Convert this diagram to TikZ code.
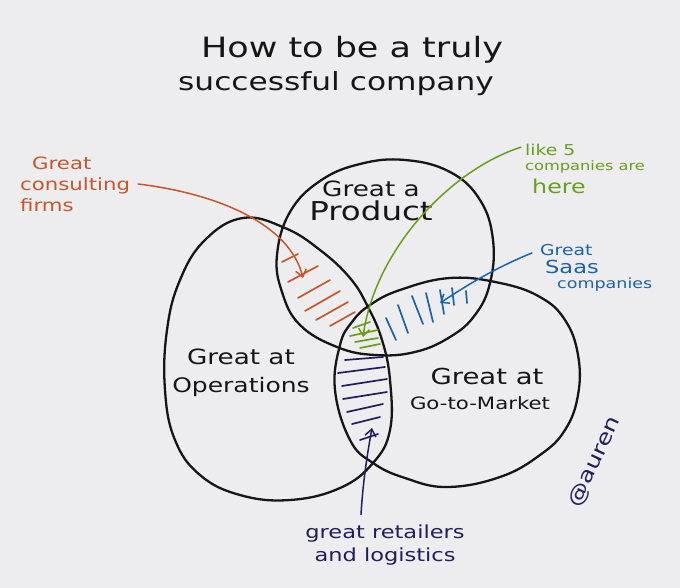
\documentclass[tikz,border=0pt]{standalone}
\usepackage{fontspec}
\newfontfamily\hand[FakeStretch=1.25]{DejaVu Sans}
\usetikzlibrary{arrows.meta,calc}
\definecolor{paper}{RGB}{237,237,239}
\definecolor{inkorange}{RGB}{196,88,42}
\definecolor{inkgreen}{RGB}{104,158,28}
\definecolor{inkblue}{RGB}{28,98,168}
\definecolor{inknavy}{RGB}{32,30,92}
\definecolor{ink}{RGB}{22,22,22}
\newcommand{\fsz}[1]{\fontsize{#1}{#1}\selectfont}
\begin{document}
\begin{tikzpicture}[x=1pt,y=-1pt,
  venn/.style={draw=ink,line width=2.3pt},
  hatch/.style={line width=1.7pt,line cap=round},
  lbl/.style={inner sep=0pt},
  arr/.style={line width=1.5pt,line cap=round,-{Straight Barb[length=7pt,width=11pt]}},
  hw/.style={text=ink,inner sep=0pt}]
\fill[paper] (0,0) rectangle (680,588);
\useasboundingbox (0,0) rectangle (680,588);

% Title
\node[hw,font=\hand\fsz{28}] (title1) at (352,50) {How to be a truly};
\node[hw,font=\hand\fsz{25}] (title2) at (336,84) {successful company};

% Circles
\draw[venn] plot[smooth cycle,tension=0.7] coordinates {
  (405,160) (450,172) (480,200) (493,240) (490,283) (475,315) (450,337)
  (415,352) (375,355) (337,347) (300,325) (282,292) (277,255) (290,212)
  (320,181) (360,164)};
\draw[venn] plot[smooth cycle,tension=0.7] coordinates {
  (243,218) (285,228) (320,250) (350,278) (368,307) (382,340) (390,380)
  (390,430) (373,463) (340,488) (290,500) (240,495) (200,475) (175,440)
  (165,390) (167,330) (180,280) (205,240)};
\draw[venn] plot[smooth cycle,tension=0.7] coordinates {
  (335,390) (340,345) (352,322) (370,305) (400,290) (450,278) (500,283)
  (540,297) (565,320) (578,355) (578,395) (565,430) (540,455) (500,477)
  (447,487) (405,478) (373,463) (350,440)};

% Circle labels
\node[hw,align=center,font=\hand] (prod) at (371,201)
  {{\fsz{21}Great a}\\[3pt]{\fsz{26}Product}};
\node[hw,align=center,font=\hand] (ops) at (241,373)
  {{\fsz{21}Great at}\\[12pt]{\fsz{20}Operations}};
\node[hw,align=center,font=\hand] (gtm) at (480,389)
  {{\fsz{22}\hspace*{14pt}Great at}\\[10pt]{\fsz{17}Go-to-Market}};

% Hatching: orange (Product & Operations)
\draw[hatch,inkorange] (282,262)--(298,254) (288,282)--(318,266)
  (298,298)--(330,280) (305,311)--(340,291) (316,320)--(348,302)
  (330,326)--(355,312);
% green (all three)
\draw[hatch,inkgreen] (353,328)--(370,322) (350,336)--(378,330)
  (355,342)--(378,338) (360,348)--(380,344);
% blue (Product & GTM)
\draw[hatch,inkblue] (386,318)--(396,340) (398,305)--(408,333)
  (412,296)--(423,324) (426,293)--(433,322) (440,290)--(444,314)
  (452,288)--(454,305) (466,291)--(467,303);
% navy (Operations & GTM)
\draw[hatch,inknavy] (345,360)--(383,357) (338,373)--(385,367)
  (342,386)--(387,379) (343,399)--(387,392) (347,412)--(383,404)
  (352,424)--(380,417) (360,440)--(378,434);

% Side labels
\node[lbl,anchor=west,align=left,text=inkorange,font=\hand\fsz{17}] (cons) at (20,184)
  {\hspace*{12pt}Great\\[4pt]consulting\\[4pt]firms};
\node[lbl,anchor=west,align=left,text=inkgreen,font=\hand] (five) at (525,169)
  {{\fsz{15}like 5}\\[3pt]{\fsz{13}companies are}\\[5pt]\hspace*{7pt}{\fsz{19}here}};
\node[lbl,anchor=west,align=left,text=inkblue,font=\hand] (saas) at (540,268)
  {{\fsz{15}Great}\\[3pt]\hspace*{5pt}{\fsz{18}Saas}\\[3pt]\hspace*{17pt}{\fsz{14}companies}};
\node[lbl,align=center,text=inknavy,font=\hand\fsz{18}] (retail) at (385,545)
  {great retailers\\[5pt]and logistics};
\node[lbl,text=inknavy,font=\hand\fsz{20},rotate=65] (auren) at (595,462) {@auren};

% Arrow ends
\coordinate (oend) at (303,278);
\coordinate (gend) at (363,337);
\coordinate (bend) at (440,303);
\coordinate (nend) at (372,428);

% Arrows
\draw[arr,inkorange] ([xshift=8pt]cons.east) .. controls (220,194) and (290,225) .. (oend);
\draw[arr,inkgreen] ([xshift=-4pt]five.160) .. controls (450,170) and (375,250) .. (gend);
\draw[arr,inkblue] ([xshift=-8pt]saas.165) .. controls (490,270) and (460,290) .. (bend);
\draw[arr,inknavy] ([xshift=-24pt,yshift=10pt]retail.north) .. controls (363,480) and (368,450) .. (nend);
\end{tikzpicture}
\end{document}
